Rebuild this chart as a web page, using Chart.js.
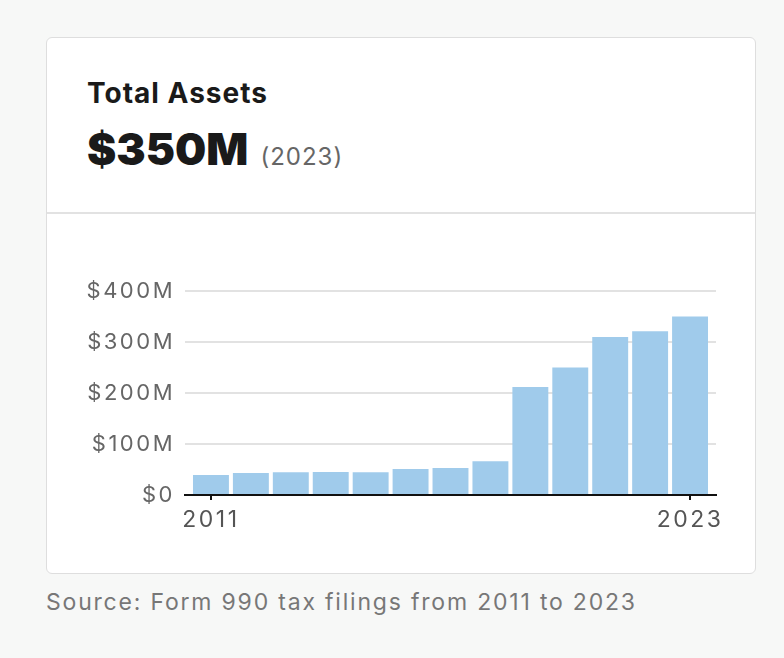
<!DOCTYPE html>
<html>
<head>
<meta charset="utf-8">
<script src="https://cdn.jsdelivr.net/npm/chart.js@4"></script>
<style>
  body {
    margin: 0;
    background: #f7f8f7;
    font-family: Inter, "Noto Sans", sans-serif;
    width: 784px;
    height: 658px;
    position: relative;
  }
  .card {
    position: absolute;
    left: 46px;
    top: 37px;
    width: 708px;
    height: 535px;
    background: #fff;
    border: 1.5px solid #dedede;
    border-radius: 6px;
  }
  .divider {
    position: absolute;
    left: 0;
    right: 0;
    top: 174px;
    border-top: 2px solid #e2e2e2;
  }
  .title {
    position: absolute;
    left: 40px;
    top: 38px;
    font-size: 28px;
    font-weight: 700;
    letter-spacing: 1px;
    color: #1a1a1a;
  }
  .big {
    position: absolute;
    left: 40px;
    top: 84px;
    font-size: 44px;
    font-weight: 900;
    color: #1a1a1a;
  }
  .big span {
    font-size: 24px;
    font-weight: 400;
    letter-spacing: 1px;
    color: #666;
    margin-left: 12px;
  }
  #chartWrap {
    position: absolute;
    left: 60px;
    top: 262px;
    width: 680px;
    height: 290px;
  }
  .source {
    position: absolute;
    left: 46px;
    top: 588px;
    font-size: 23px;
    letter-spacing: 1.8px;
    color: #777;
  }
</style>
</head>
<body>
<div class="card">
  <div class="title">Total Assets</div>
  <div class="big">$350M<span>(2023)</span></div>
  <div class="divider"></div>
</div>
<div id="chartWrap"><canvas id="assetsChart"></canvas></div>
<div class="source">Source: Form 990 tax filings from 2011 to 2023</div>

<script>
const years = [2011, 2012, 2013, 2014, 2015, 2016, 2017, 2018, 2019, 2020, 2021, 2022, 2023];
// total assets, millions of dollars
const assets = [39, 43, 44.5, 45, 44.5, 51, 53, 66, 212, 250, 310, 321, 350];
const yTicks = [0, 100, 200, 300, 400];
const xTicks = [2011, 2023];

const ctx = document.getElementById('assetsChart').getContext('2d');

// the reference font runs wider than the installed ones
const spacingPlugin = {
    id: 'spacing',
    beforeUpdate: (chart) => { chart.ctx.letterSpacing = '2.5px'; },
    beforeDraw: (chart) => { chart.ctx.letterSpacing = '2.5px'; }
};

new Chart(ctx, {
    type: 'bar',
    data: {
        datasets: [{
            data: years.map((y, i) => ({ x: y, y: assets[i] })),
            backgroundColor: '#a0cbeb',
            barPercentage: 0.9,
            categoryPercentage: 1
        }]
    },
    plugins: [spacingPlugin],
    options: {
        responsive: true,
        maintainAspectRatio: false,
        animation: false,
        layout: { padding: { top: 29, right: 24, bottom: 17, left: 0 } },
        plugins: {
            legend: { display: false },
            tooltip: { enabled: false }
        },
        scales: {
            x: {
                type: 'linear',
                offset: false,
                min: 2010.35,
                max: 2023.65,
                afterBuildTicks: (scale) => {
                    scale.ticks = xTicks.map(v => ({ value: v }));
                },
                afterFit: (scale) => { scale.height = 40; },
                grid: {
                    offset: false,
                    drawOnChartArea: false,
                    drawTicks: true,
                    tickLength: 5,
                    color: '#111',
                    lineWidth: 2
                },
                border: { display: true, color: '#111', width: 2 },
                ticks: {
                    autoSkip: false,
                    maxRotation: 0,
                    padding: 6,
                    color: '#555',
                    font: { family: 'Inter', size: 23 },
                    callback: (v) => String(v)
                }
            },
            y: {
                min: 0,
                max: 400,
                afterBuildTicks: (scale) => {
                    scale.ticks = yTicks.map(v => ({ value: v }));
                },
                afterFit: (scale) => { scale.width = 125; },
                grid: {
                    color: '#e2e2e2',
                    lineWidth: 2,
                    drawTicks: false
                },
                border: { display: false },
                ticks: {
                    padding: 10,
                    color: '#666',
                    font: { family: 'Inter', size: 22 },
                    callback: (v) => v === 0 ? '$0' : '$' + v + 'M'
                }
            }
        }
    }
});
</script>
</body>
</html>
